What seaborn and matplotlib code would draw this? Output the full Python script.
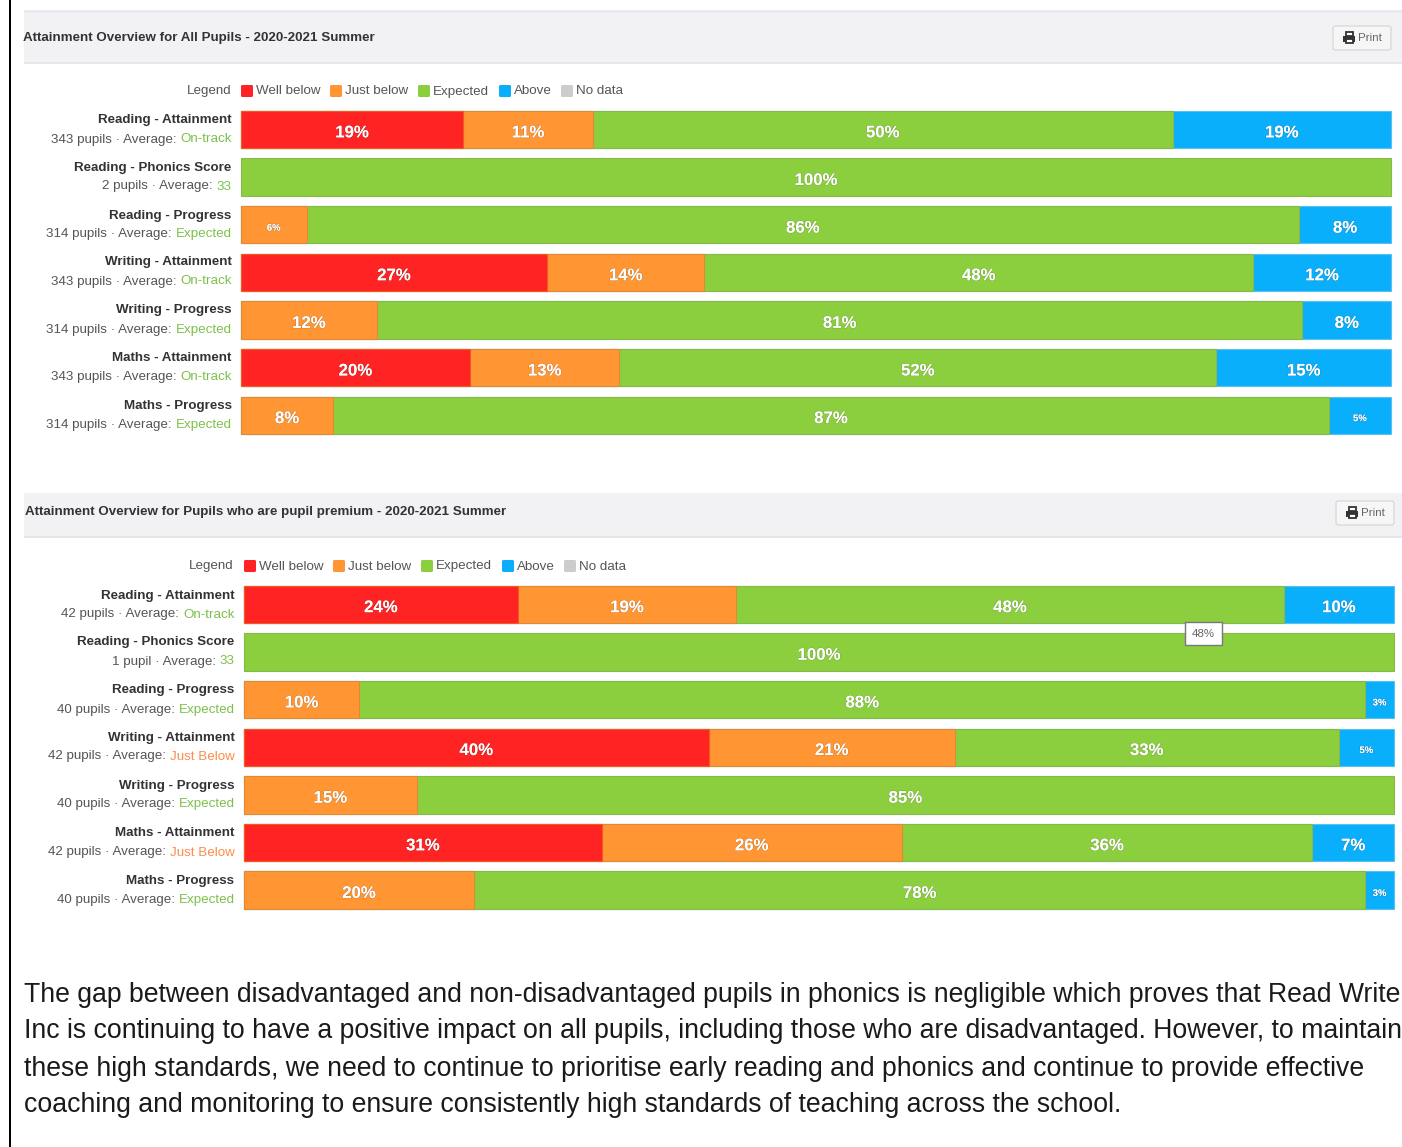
import matplotlib
matplotlib.use('Agg')
import matplotlib.pyplot as plt
import matplotlib.patheffects as pe
from matplotlib.patches import Rectangle, FancyBboxPatch
import pandas as pd
import seaborn as sns

rows_all = ['Reading - Attainment', 'Reading - Phonics Score', 'Reading - Progress', 'Writing - Attainment',
            'Writing - Progress', 'Maths - Attainment', 'Maths - Progress']
pupils_all = ['343 pupils', '2 pupils', '314 pupils', '343 pupils', '314 pupils', '343 pupils', '314 pupils']
average_all = ['On-track', '33', 'Expected', 'On-track', 'Expected', 'On-track', 'Expected']
well_all = [19.3, 0, 0, 26.6, 0, 19.9, 0]
just_all = [11.3, 0, 5.7, 13.7, 11.8, 13.0, 8.0]
expected_all = [50.4, 100, 86.3, 47.7, 80.5, 51.9, 86.6]
above_all = [19.0, 0, 8.0, 12.0, 7.7, 15.2, 5.4]

rows_pp = rows_all
pupils_pp = ['42 pupils', '1 pupil', '40 pupils', '42 pupils', '40 pupils', '42 pupils', '40 pupils']
average_pp = ['On-track', '33', 'Expected', 'Just Below', 'Expected', 'Just Below', 'Expected']
well_pp = [23.8, 0, 0, 40.4, 0, 31.1, 0]
just_pp = [19.0, 0, 10.0, 21.4, 15.0, 26.1, 20.0]
expected_pp = [47.6, 100, 87.5, 33.4, 85.0, 35.7, 77.5]
above_pp = [9.6, 0, 2.5, 4.8, 0, 7.1, 2.5]

legend_labels = ['Well below', 'Just below', 'Expected', 'Above', 'No data']
legend_colors = ['#ff2323', '#ff9633', '#8ccf3e', '#0aaffc', '#cccccc']
edge_colors = ['#ee5a20', '#e08a35', '#86b84a', '#5cc0ee']

paragraph = ['The gap between disadvantaged and non-disadvantaged pupils in phonics is negligible which proves that Read Write',
             'Inc is continuing to have a positive impact on all pupils, including those who are disadvantaged. However, to maintain',
             'these high standards, we need to continue to prioritise early reading and phonics and continue to provide effective',
             'coaching and monitoring to ensure consistently high standards of teaching across the school.']

W, H = 1402, 1147
sns.set_theme(style='white')
plt.rcParams['font.family'] = ['Liberation Sans', 'DejaVu Sans']

fig = plt.figure(figsize=(W / 100, H / 100), dpi=100)
page = fig.add_axes([0, 0, 1, 1], zorder=3)
page.set_xlim(0, W)
page.set_ylim(H, 0)
page.set_axis_off()
page.patch.set_alpha(0)


def px(size):
    return size * 0.72


def rect(x0, y0, x1, y1, color, **kw):
    page.add_patch(Rectangle((x0, y0), x1 - x0, y1 - y0, facecolor=color, edgecolor='none', **kw))


def draw_bars(box, rows, well, just, expected, above):
    left, top, right, bottom = box
    ax = fig.add_axes([left / W, 1 - bottom / H, (right - left) / W, (bottom - top) / H], zorder=2)
    df = pd.DataFrame({'row': rows, 'well': well, 'just': just, 'expected': expected, 'above': above})
    bands = ['well', 'just', 'expected', 'above']
    cum = df[bands].cumsum(axis=1)

    # stacked by drawing the running totals back to front
    for i in [3, 2, 1, 0]:
        keep = df[bands[i]] > 0
        sns.barplot(x=cum[bands[i]][keep], y=df['row'][keep], order=rows, orient='h', color=legend_colors[i],
                    saturation=1, width=0.785, edgecolor=edge_colors[i], linewidth=0.8, ax=ax)

    for n in range(len(rows)):
        start = 0
        for band in bands:
            v = df[band][n]
            if v > 0:
                label = str(int(v + 0.5)) + '%'
                small = v < 6
                t = ax.text(start + v / 2, n + (0.07 if small else 0.07), label, color='white', ha='center', va='center',
                            fontsize=px(9.5 if small else 16.8), fontweight='bold')
                t.set_path_effects([pe.withStroke(linewidth=0.7, foreground='#00000030')])
            start += v

    ax.set_xlim(0, 100)
    ax.set_ylim(len(rows) - 0.5, -0.5)
    ax.set_axis_off()
    for p in ax.patches:
        p.set_clip_on(False)
    return ax


def average_color(word):
    return '#ff8a4a' if word == 'Just Below' else '#7cc04a'


def draw_row_labels(x, centers, rows, pupils, average):
    renderer = fig.canvas.get_renderer()
    for yc, name, count, avg in zip(centers, rows, pupils, average):
        page.text(x, yc - 9.5, name, ha='right', va='center', fontsize=px(13.4), fontweight='bold', color='#333333')
        t = page.text(x, yc + 9.5, avg, ha='right', va='center', fontsize=px(13.4), color=average_color(avg))
        w = t.get_window_extent(renderer).width
        page.text(x - w, yc + 9.5, count + ' · Average: ', ha='right', va='center', fontsize=px(13.4), color='#555555')


def draw_legend(x, y):
    page.text(x - 10, y, 'Legend', ha='right', va='center', fontsize=px(13.4), color='#555555')
    offsets = [0, 89, 177, 258, 320]
    for off, name, c in zip(offsets, legend_labels, legend_colors):
        page.add_patch(FancyBboxPatch((x + off, y - 6), 12, 12, boxstyle='round,pad=0,rounding_size=1.5',
                                      facecolor=c, edgecolor='none'))
        page.text(x + off + 15, y + 0.5, name, ha='left', va='center', fontsize=px(13.4), color='#555555')


def draw_print_button(x0, y0):
    page.add_patch(FancyBboxPatch((x0, y0), 58, 24, boxstyle='round,pad=0,rounding_size=2.5',
                                  facecolor='#f6f6f6', edgecolor='#dadada', linewidth=1))
    # printer icon
    page.add_patch(Rectangle((x0 + 13, y0 + 5.5), 7, 4.5, facecolor='white', edgecolor='#333333', linewidth=1.3))
    rect(x0 + 10, y0 + 9.5, x0 + 22, y0 + 15.5, '#333333')
    page.add_patch(Rectangle((x0 + 13, y0 + 13), 7, 4, facecolor='white', edgecolor='#333333', linewidth=1.3))
    page.text(x0 + 25, y0 + 12, 'Print', ha='left', va='center', fontsize=px(11.5), color='#666666')


# black rule down the left of the page
rect(9, 0, 11, H, 'black')

# panel 1
rect(24, 10, W, 13, '#e9e9ef')
rect(24, 13, W, 62, '#f2f2f5')
rect(24, 62, W, 63.5, '#e6e6e6')
page.text(23, 38, 'Attainment Overview for All Pupils - 2020-2021 Summer', ha='left', va='center',
          fontsize=px(13.4), fontweight='bold', color='#333333')
draw_print_button(1333, 26)
draw_legend(241, 91)
draw_bars((241, 105.7, 1391, 439.1), rows_all, well_all, just_all, expected_all, above_all)
draw_row_labels(231.5, [130, 177, 225, 272, 320, 367.5, 415.5], rows_all, pupils_all, average_all)

# panel 2
rect(24, 493, W, 536, '#f2f2f5')
rect(24, 536, W, 537.5, '#e6e6e6')
page.text(25, 512.5, 'Attainment Overview for Pupils who are pupil premium - 2020-2021 Summer', ha='left', va='center',
          fontsize=px(13.4), fontweight='bold', color='#333333')
draw_print_button(1336, 501)
draw_legend(244, 566)
draw_bars((244, 580.5, 1394, 913.9), rows_pp, well_pp, just_pp, expected_pp, above_pp)
draw_row_labels(234.5, [605, 652, 700, 747, 795, 843, 890.5], rows_pp, pupils_pp, average_pp)

# tooltip left over from the screenshot
page.add_patch(Rectangle((1185, 622), 37, 23, facecolor='white', edgecolor='#777777', linewidth=1))
page.text(1203.5, 634, '48%', ha='center', va='center', fontsize=px(11.5), color='#666666')

for y, line in zip([994.5, 1031.5, 1068.5, 1104.5], paragraph):
    page.text(24.5, y, line, ha='left', va='center', fontsize=px(26.6), color='#1a1a1a', clip_on=True)

fig.savefig('out.png', dpi=100)
